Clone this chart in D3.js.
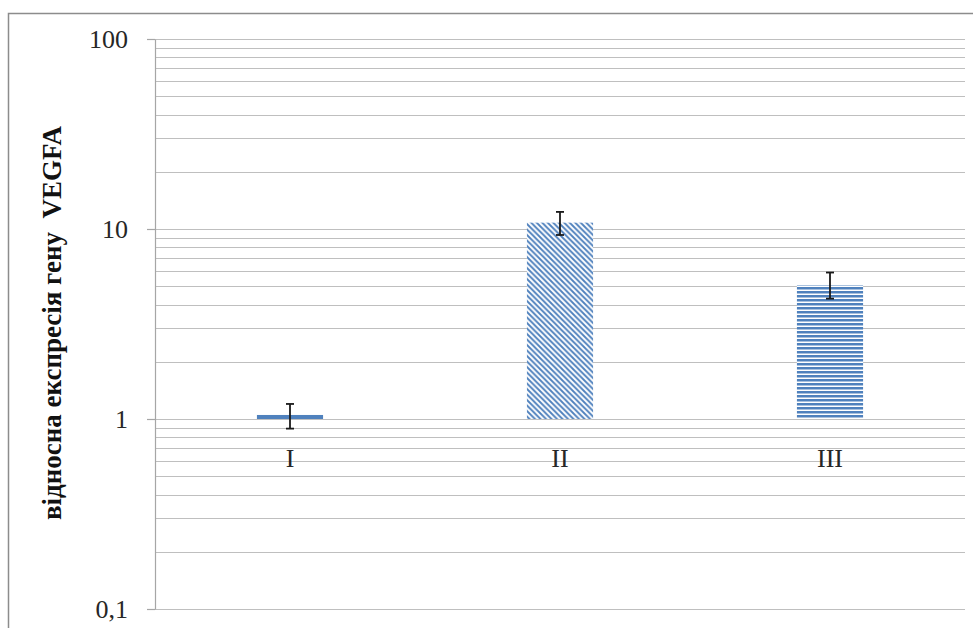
<!DOCTYPE html>
<html>
<head>
<meta charset="utf-8">
<script src="https://cdn.jsdelivr.net/npm/d3@7/dist/d3.min.js"></script>
<style>
  html, body { margin: 0; padding: 0; background: #fff; }
  #chart { width: 973px; height: 628px; }
</style>
</head>
<body>
<div id="chart"></div>
<script>
// Relative VEGFA expression, three groups, log10 y axis (0.1 .. 100)
var categories = ['I', 'II', 'III'];
var values     = [1.05, 10.8, 5.07];
var errPlus    = [0.15, 1.5, 0.83];
var errMinus   = [0.16, 1.5, 0.77];
var yTickValues = [0.1, 1, 10, 100];
var yTickLabels = ['0,1', '1', '10', '100'];
var yTitle = 'відносна експресія гену  VEGFA';

(function () {
    var W = 973, H = 628;
    var margin = { top: 39, right: 8, bottom: 19, left: 155 };
    var innerW = W - margin.left - margin.right;
    var innerH = H - margin.top - margin.bottom;
    var blue = '#4f81bd';

    var svg = d3.select('#chart').append('svg')
        .attr('width', W).attr('height', H);

    // Patterns for bars II and III
    var defs = svg.append('defs');
    var pd = defs.append('pattern').attr('id', 'diag')
        .attr('patternUnits', 'userSpaceOnUse')
        .attr('width', 5.5).attr('height', 5.5);
    pd.append('rect').attr('width', 5.5).attr('height', 5.5).attr('fill', '#fff');
    pd.append('path').attr('d', 'M0,0 L5.5,5.5 M-1,4.5 L1,6.5 M4.5,-1 L6.5,1')
        .attr('stroke', blue).attr('stroke-width', 1.9);
    var ph = defs.append('pattern').attr('id', 'horiz')
        .attr('patternUnits', 'userSpaceOnUse')
        .attr('width', 8).attr('height', 4);
    ph.append('rect').attr('width', 8).attr('height', 4).attr('fill', '#fff');
    ph.append('rect').attr('y', 0).attr('width', 8).attr('height', 2.5).attr('fill', blue);
    var fills = [blue, 'url(#diag)', 'url(#horiz)'];

    // Outer chart frame
    svg.append('rect')
        .attr('x', 8.5).attr('y', 13.5).attr('width', W + 10).attr('height', H)
        .attr('fill', 'none').attr('stroke', '#8c8c8c').attr('stroke-width', 1.5);

    var g = svg.append('g')
        .attr('transform', 'translate(' + margin.left + ',' + margin.top + ')');

    var x = d3.scaleBand().domain(categories).range([0, innerW])
        .paddingInner(0.755).paddingOuter(0.3775);
    var y = d3.scaleLog().domain([0.1, 100]).range([innerH, 0]);

    // Gridlines: majors and minors per decade
    var gridVals = [];
    [0.1, 1, 10].forEach(function (d) {
        for (var k = 1; k <= 9; k++) gridVals.push(d * k);
    });
    gridVals.push(100);
    g.append('g').selectAll('line').data(gridVals).enter().append('line')
        .attr('x1', 0).attr('x2', innerW)
        .attr('y1', function (d) { return Math.round(y(d)) + 0.5; })
        .attr('y2', function (d) { return Math.round(y(d)) + 0.5; })
        .attr('stroke', '#bfbfbf').attr('stroke-width', 1.2);

    // Y axis
    var yAxisG = g.append('g')
        .call(d3.axisLeft(y).tickValues(yTickValues)
            .tickFormat(function (d, i) { return yTickLabels[i]; })
            .tickSize(8).tickSizeOuter(0).tickPadding(19));
    yAxisG.select('.domain').attr('stroke', '#a6a6a6').attr('stroke-width', 1.2);
    yAxisG.selectAll('.tick line').attr('stroke', '#a6a6a6').attr('stroke-width', 1.2);
    yAxisG.selectAll('.tick text')
        .attr('font-family', '"Liberation Serif", "DejaVu Serif", serif')
        .attr('font-size', 26).attr('fill', '#262626');

    // Bars, starting from the axis crossing at 1
    g.append('g').selectAll('rect').data(values).enter().append('rect')
        .attr('x', function (d, i) { return x(categories[i]); })
        .attr('width', x.bandwidth())
        .attr('y', function (d) { return y(Math.max(d, 1)); })
        .attr('height', function (d) { return Math.abs(y(1) - y(d)); })
        .attr('fill', function (d, i) { return fills[i]; });

    // Category labels under the y = 1 axis
    g.append('g').selectAll('text').data(categories).enter().append('text')
        .attr('x', function (d) { return x(d) + x.bandwidth() / 2; })
        .attr('y', y(1) + 48)
        .attr('text-anchor', 'middle')
        .attr('font-family', '"Liberation Serif", "DejaVu Serif", serif')
        .attr('font-size', 26).attr('fill', '#262626')
        .text(function (d) { return d; });

    // Error bars
    var eg = g.append('g').attr('stroke', '#1a1a1a').attr('stroke-width', 1.8);
    values.forEach(function (v, i) {
        var cx = x(categories[i]) + x.bandwidth() / 2;
        var yt = y(v + errPlus[i]), yb = y(v - errMinus[i]);
        eg.append('line').attr('x1', cx).attr('x2', cx).attr('y1', yt).attr('y2', yb);
        eg.append('line').attr('x1', cx - 4).attr('x2', cx + 4).attr('y1', yt).attr('y2', yt);
        eg.append('line').attr('x1', cx - 4).attr('x2', cx + 4).attr('y1', yb).attr('y2', yb);
    });

    // Y axis title
    svg.append('text')
        .attr('transform', 'translate(61,323) rotate(-90)')
        .attr('text-anchor', 'middle')
        .attr('font-family', '"Liberation Serif", "DejaVu Serif", serif')
        .attr('font-weight', 'bold').attr('font-size', 27).attr('fill', '#111')
        .attr('xml:space', 'preserve')
        .style('white-space', 'pre')
        .text(yTitle);
})();
</script>
</body>
</html>
